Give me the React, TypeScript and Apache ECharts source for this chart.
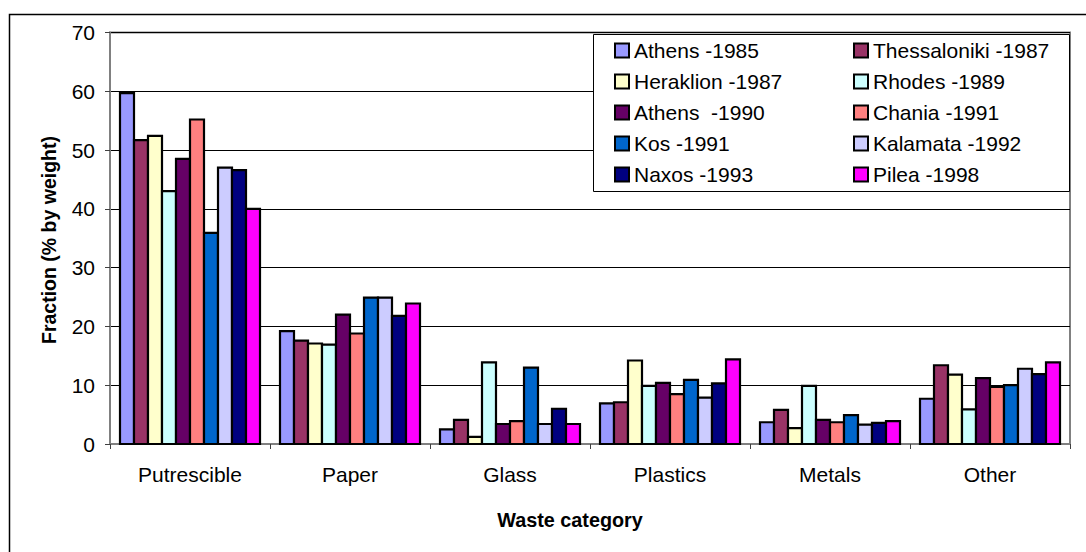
import React, { useEffect, useRef } from "react";
import * as echarts from "echarts";

const categories = ["Putrescible", "Paper", "Glass", "Plastics", "Metals", "Other"];

const seriesNames = [
  "Athens -1985",
  "Thessaloniki -1987",
  "Heraklion -1987",
  "Rhodes -1989",
  "Athens  -1990",
  "Chania -1991",
  "Kos -1991",
  "Kalamata -1992",
  "Naxos -1993",
  "Pilea -1998",
];

const seriesColors = [
  "#9999FF",
  "#993366",
  "#FFFFCC",
  "#CCFFFF",
  "#660066",
  "#FF8080",
  "#0066CC",
  "#CCCCFF",
  "#000080",
  "#FF00FF",
];

// values per series: [Putrescible, Paper, Glass, Plastics, Metals, Other]
const athens1985 = [59.7, 19.2, 2.5, 6.9, 3.7, 7.7];
const thessaloniki1987 = [51.7, 17.6, 4.1, 7.1, 5.8, 13.4];
const heraklion1987 = [52.4, 17.1, 1.2, 14.2, 2.7, 11.8];
const rhodes1989 = [43.0, 16.9, 13.9, 9.9, 9.9, 5.9];
const athens1990 = [48.5, 22.0, 3.4, 10.4, 4.1, 11.2];
const chania1991 = [55.2, 18.8, 3.9, 8.5, 3.7, 9.7];
const kos1991 = [35.9, 24.9, 13.0, 10.9, 4.9, 10.0];
const kalamata1992 = [47.0, 24.9, 3.4, 7.9, 3.3, 12.8];
const naxos1993 = [46.6, 21.8, 6.0, 10.3, 3.6, 11.9];
const pilea1998 = [40.0, 23.9, 3.4, 14.4, 3.9, 13.9];

const seriesValues = [
  athens1985,
  thessaloniki1987,
  heraklion1987,
  rhodes1989,
  athens1990,
  chania1991,
  kos1991,
  kalamata1992,
  naxos1993,
  pilea1998,
];

const yTicks = { min: 0, max: 70, interval: 10 };

const FONT = "Arial, 'Liberation Sans', sans-serif";

export default function App() {
  const ref = useRef<HTMLDivElement>(null);

  useEffect(() => {
    if (!ref.current) return;
    const chart = echarts.init(ref.current, undefined, { renderer: "svg" });

    const legendCommon = {
      orient: "vertical" as const,
      itemWidth: 14,
      itemHeight: 14,
      itemGap: 10,
      padding: 0,
      icon: "rect",
      textStyle: { fontSize: 21, fontFamily: FONT, color: "#000" },
      selectedMode: false,
      z: 5,
    };

    const nSeries = seriesNames.length;
    const groupFrac = 0.875; // bars fill 87.5% of each category band

    chart.setOption({
      animation: false,
      backgroundColor: "#fff",
      grid: {
        left: 110,
        right: 16,
        top: 32.5,
        bottom: 108,
        show: true,
        borderColor: "#808080",
        borderWidth: 2,
        backgroundColor: "transparent",
      },
      legend: [
        {
          ...legendCommon,
          left: 614,
          top: 40,
          data: seriesNames.filter((_, i) => i % 2 === 0),
        },
        {
          ...legendCommon,
          left: 853,
          top: 40,
          data: seriesNames.filter((_, i) => i % 2 === 1),
        },
      ],
      xAxis: {
        type: "category",
        data: categories,
        axisLine: { show: true, lineStyle: { color: "#808080", width: 2 } },
        axisTick: { show: true, length: 5, lineStyle: { color: "#404040", width: 1 } },
        axisLabel: { fontSize: 21, fontFamily: FONT, color: "#000", margin: 20 },
        splitLine: { show: false },
      },
      yAxis: {
        type: "value",
        min: yTicks.min,
        max: yTicks.max,
        interval: yTicks.interval,
        axisLine: { show: true, lineStyle: { color: "#808080", width: 2 } },
        axisTick: { show: true, length: 5, lineStyle: { color: "#404040", width: 1 } },
        axisLabel: { fontSize: 21, fontFamily: FONT, color: "#000", margin: 15 },
        splitLine: { show: true, lineStyle: { color: "#000", width: 1 } },
      },
      graphic: [
        {
          type: "rect",
          shape: { x: 9.5, y: 14.5, width: 1200, height: 700 },
          style: { fill: "none", stroke: "#000", lineWidth: 1.5 },
          silent: true,
          z: 10,
        },
        {
          type: "rect",
          shape: { x: 593.5, y: 34.5, width: 476, height: 157 },
          style: { fill: "#fff", stroke: "#000", lineWidth: 1 },
          silent: true,
          z: 3,
        },
        {
          type: "text",
          x: 570,
          y: 520,
          style: {
            text: "Waste category",
            font: `bold 19.8px ${FONT}`,
            fill: "#000",
            textAlign: "center",
            textVerticalAlign: "middle",
          },
          silent: true,
        },
        {
          type: "text",
          x: 49,
          y: 240,
          rotation: Math.PI / 2,
          style: {
            text: "Fraction (% by weight)",
            font: `bold 19.5px ${FONT}`,
            fill: "#000",
            textAlign: "center",
            textVerticalAlign: "middle",
          },
          silent: true,
        },
      ],
      series: seriesNames.map((name, si) => ({
        name,
        type: "custom",
        data: seriesValues[si].map((v, ci) => [ci, v]),
        encode: { x: 0, y: 1 },
        itemStyle: {
          color: seriesColors[si],
          borderColor: "#000",
          borderWidth: 2,
        },
        renderItem: (params: any, api: any) => {
          const ci = api.value(0);
          const v = api.value(1);
          const base = api.coord([ci, 0]);
          const top = api.coord([ci, v]);
          const band = api.size([1, 0])[0];
          const bw = (band * groupFrac) / nSeries;
          const x0 = base[0] - (band * groupFrac) / 2 + si * bw;
          return {
            type: "rect",
            shape: { x: x0, y: top[1], width: bw, height: base[1] - top[1] },
            style: { fill: seriesColors[si], stroke: "#000", lineWidth: 2.2 },
          };
        },
      })),
    });

    return () => chart.dispose();
  }, []);

  return (
    <div
      ref={ref}
      style={{ position: "absolute", left: 0, top: 0, width: 1086, height: 552 }}
    />
  );
}
